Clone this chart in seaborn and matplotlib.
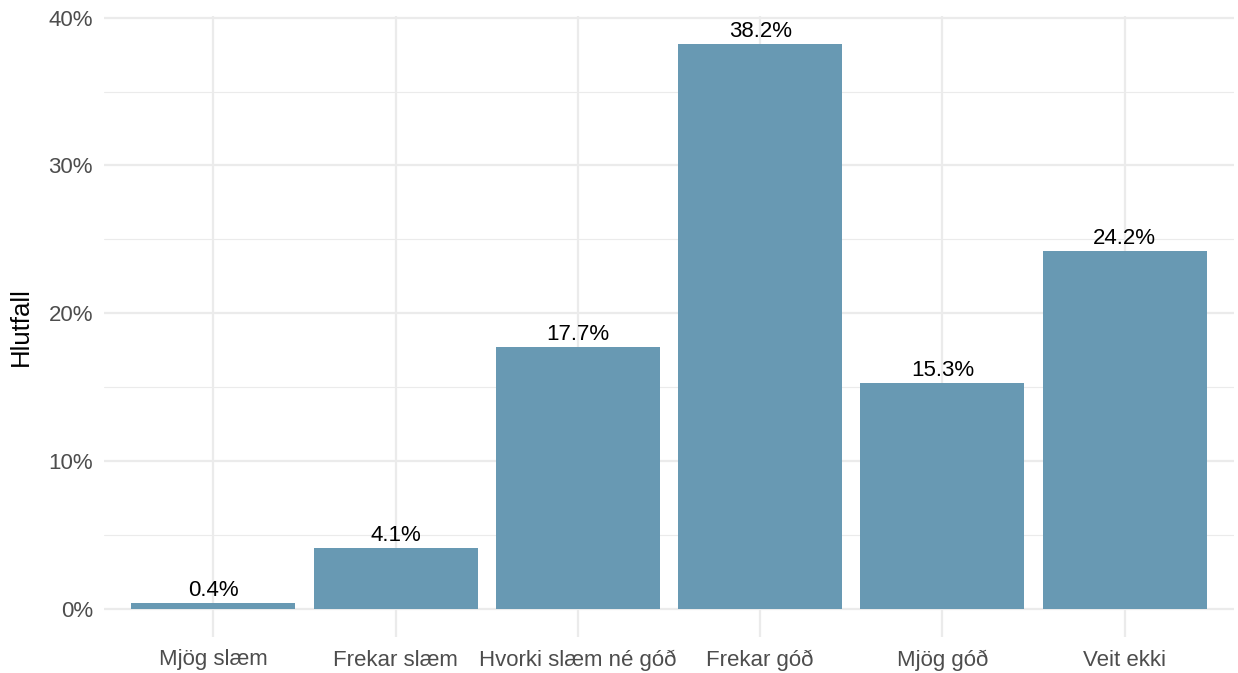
import matplotlib
matplotlib.use("Agg")
import matplotlib.pyplot as plt
import seaborn as sns
import pandas as pd
from matplotlib.ticker import MultipleLocator, PercentFormatter

categories = ["Mjög slæm", "Frekar slæm", "Hvorki slæm né góð", "Frekar góð", "Mjög góð", "Veit ekki"]
shares = [0.004, 0.041, 0.177, 0.382, 0.153, 0.242]
value_labels = ["0.4%", "4.1%", "17.7%", "38.2%", "15.3%", "24.2%"]

df = pd.DataFrame({"svar": categories, "hlutfall": shares})

sns.set_theme(style="white")
plt.rcParams["font.family"] = ["Liberation Sans", "DejaVu Sans"]

fig = plt.figure(figsize=(12.38, 6.73), dpi=100)
ax = fig.add_axes([104 / 1238, 36 / 673, 1130 / 1238, 621 / 673])

sns.barplot(data=df, x="svar", y="hlutfall", color="#6899b3", saturation=1,
            width=0.9, linewidth=0, ax=ax, zorder=2)

for i, (v, lab) in enumerate(zip(shares, value_labels)):
    ax.text(i, v + 0.0012, lab, ha="center", va="bottom", fontsize=16, color="black", zorder=3)

ymax = max(shares)
ax.set_ylim(-0.05 * ymax, 1.05 * ymax)
ax.set_xlim(-0.6, len(categories) - 0.4)
ax.yaxis.set_major_locator(MultipleLocator(0.1))
ax.yaxis.set_minor_locator(MultipleLocator(0.05))
ax.yaxis.set_major_formatter(PercentFormatter(1.0, decimals=0))

ax.grid(True, which="major", axis="both", color="#ebebeb", linewidth=1.6, zorder=0)
ax.grid(True, which="minor", axis="y", color="#ebebeb", linewidth=0.8, zorder=0)
ax.set_axisbelow(True)
for s in ax.spines.values():
    s.set_visible(False)

ax.tick_params(axis="both", which="both", length=0, labelsize=16, labelcolor="#4d4d4d")
ax.tick_params(axis="x", pad=9)
ax.tick_params(axis="y", pad=8)
ax.set_xlabel("")
ax.set_ylabel("Hlutfall", fontsize=18.5, color="black", labelpad=11)

fig.savefig("out.png", dpi=100, facecolor="white")
